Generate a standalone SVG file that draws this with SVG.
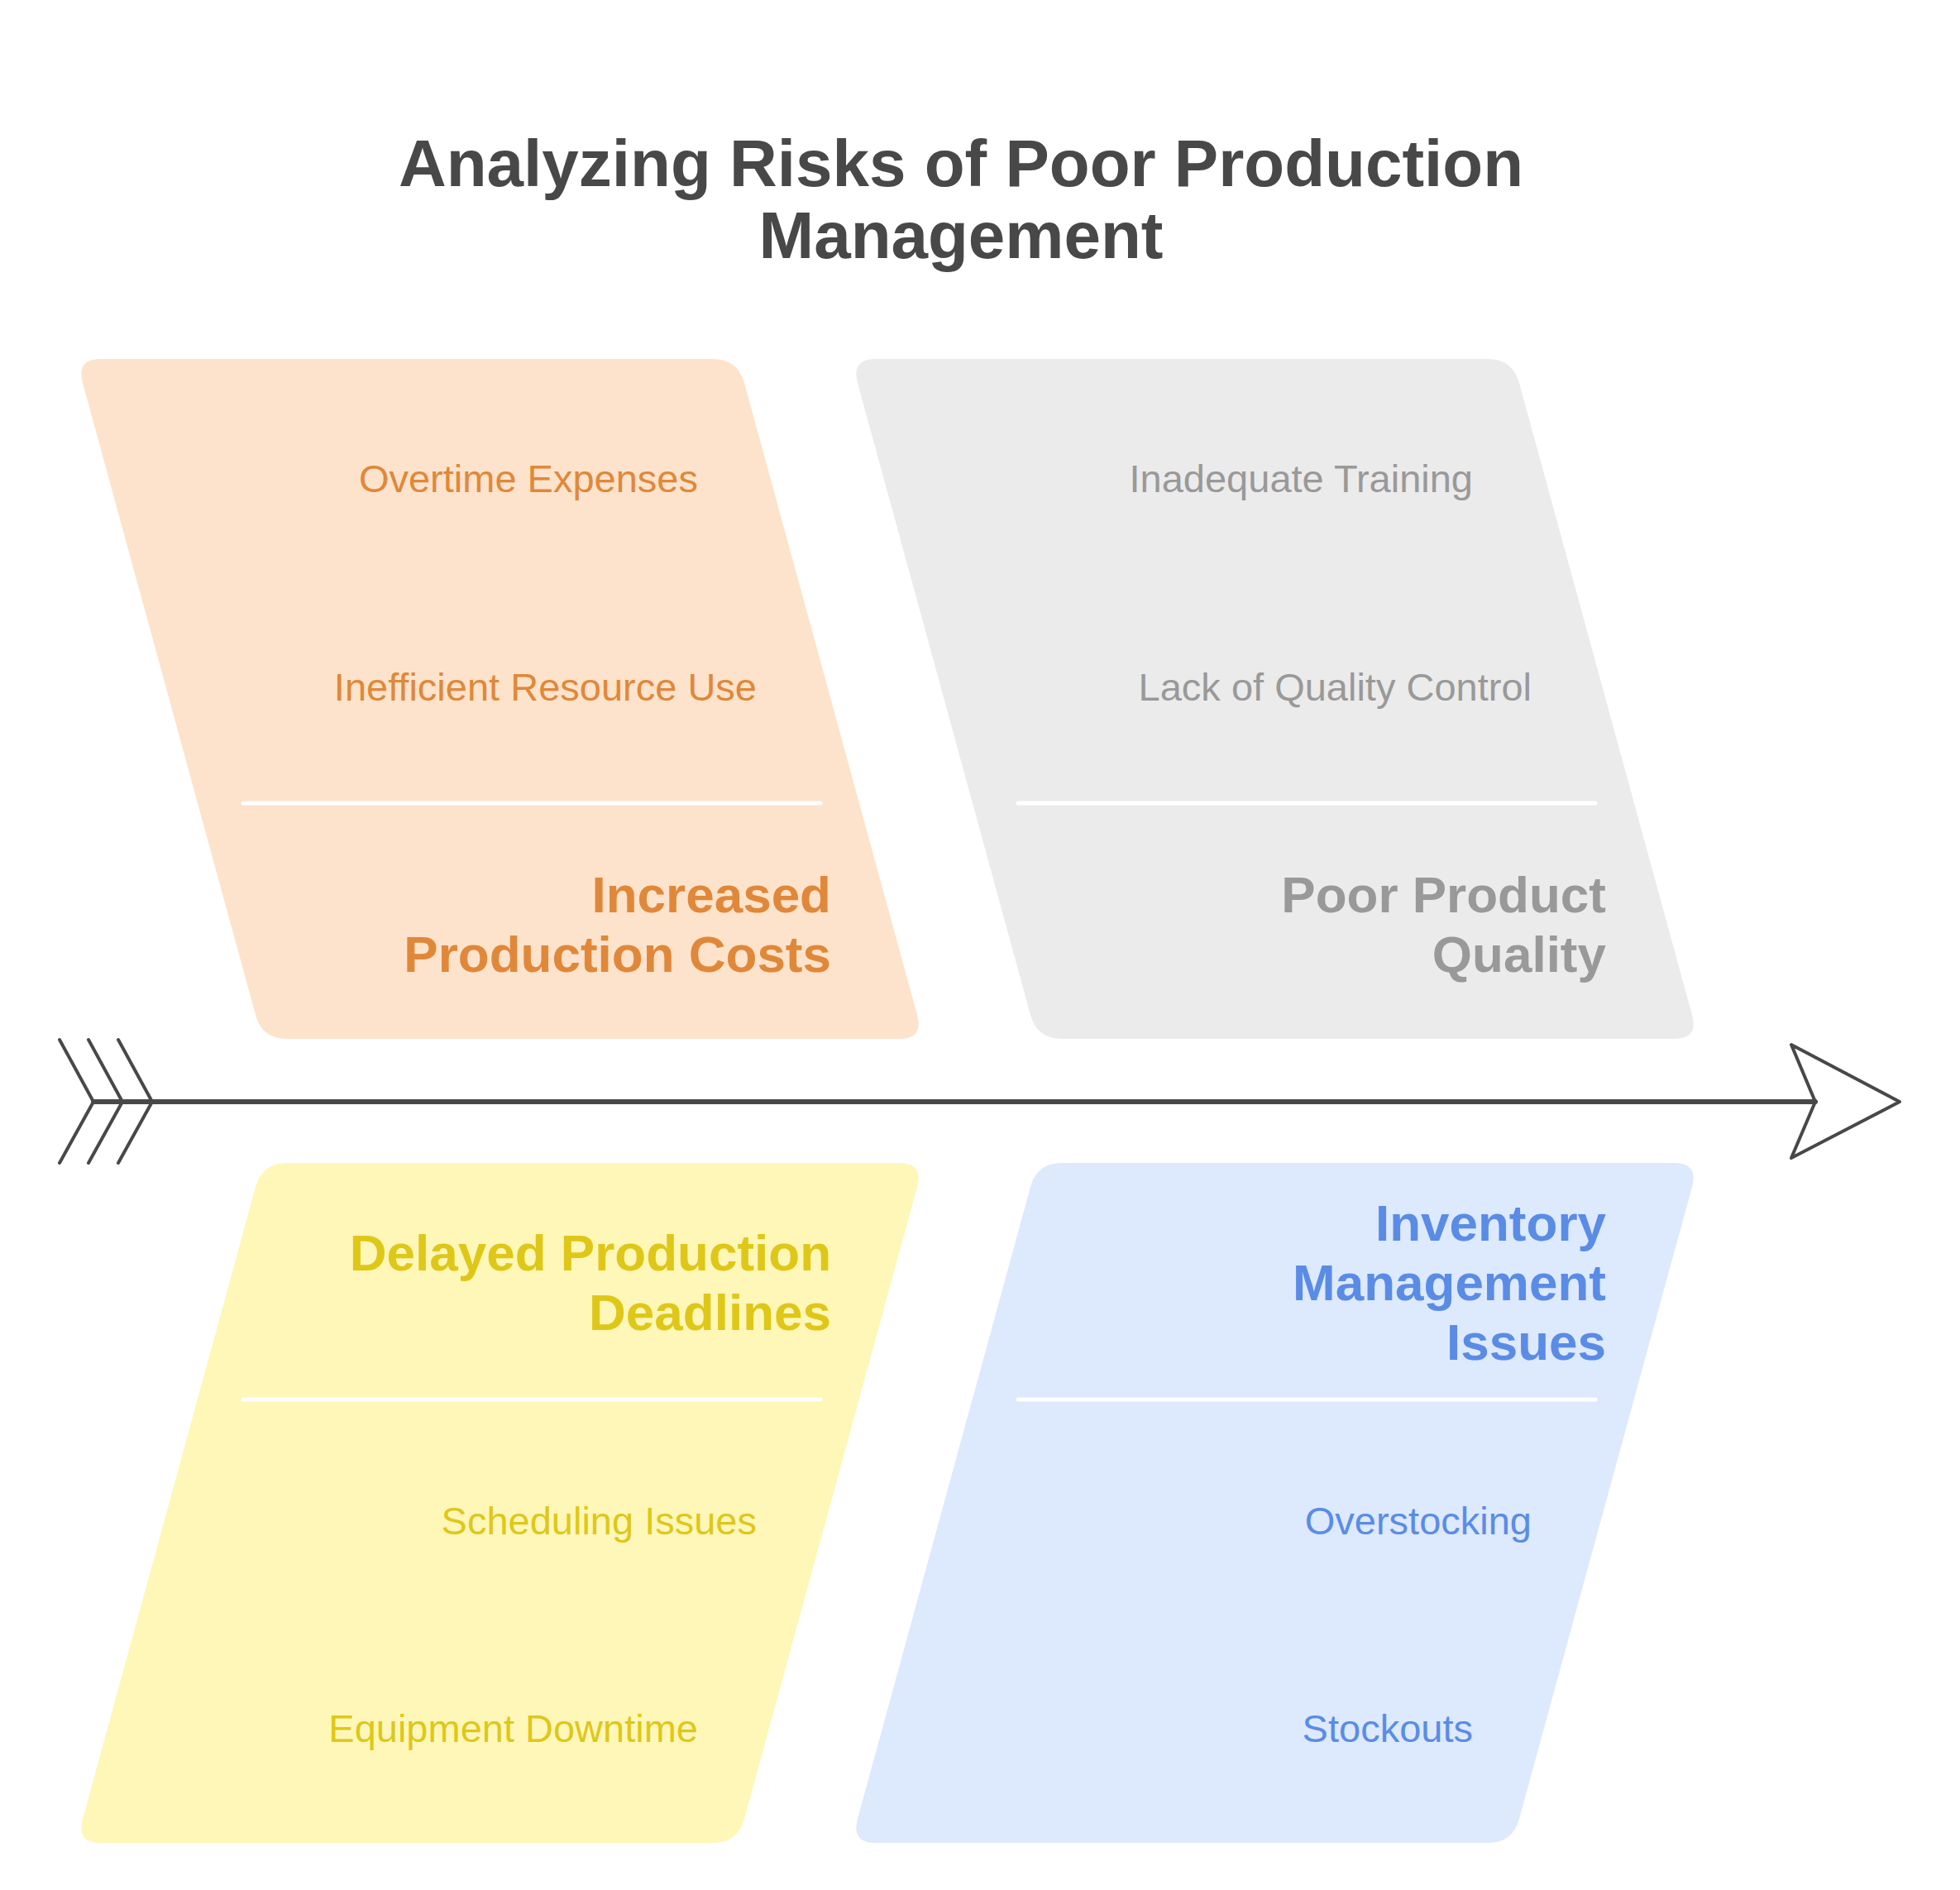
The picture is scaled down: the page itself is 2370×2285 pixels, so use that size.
<svg xmlns="http://www.w3.org/2000/svg" width="2370" height="2285" viewBox="0 0 2370 2285">
<style>
  text { font-family: "Liberation Sans", Arial, sans-serif; }
  .title { font-size: 80px; font-weight: bold; fill: #484848; text-anchor: middle; }
  .head { font-size: 62px; font-weight: bold; text-anchor: end; }
  .item { font-size: 47px; text-anchor: end; }
  .div { stroke: #ffffff; stroke-width: 5; stroke-linecap: round; fill: none; }
  .spine { stroke: #484848; fill: none; stroke-linecap: round; stroke-linejoin: round; }
  .orange .box { fill: #FDE3CB; } .orange text { fill: #E0883A; }
  .gray .box { fill: #EBEBEB; } .gray text { fill: #999999; }
  .yellow .box { fill: #FEF7B8; } .yellow text { fill: #DFC719; }
  .blue .box { fill: #DDE9FD; } .blue text { fill: #5A8CE6; }
</style>
<rect width="2370" height="2285" fill="#ffffff"/>
<g id="title">
  <text class="title" x="1162" y="225">Analyzing Risks of Poor Production</text>
  <text class="title" x="1162" y="312">Management</text>
</g>
<g id="connectors">
  <line class="spine" x1="113" y1="1332" x2="2195" y2="1332" stroke-width="6"/>
  <polyline class="spine" points="72,1257 113,1332 72,1406" stroke-width="4"/>
  <polyline class="spine" points="107,1257 148,1332 107,1406" stroke-width="4"/>
  <polyline class="spine" points="143,1257 184,1332 143,1406" stroke-width="4"/>
  <polygon class="spine" points="2166,1263 2297,1332 2166,1400 2195,1332" fill="#ffffff" stroke-width="4"/>
</g>
<g id="node-costs" class="orange">
  <path class="box" d="M122,434 L862,434 Q892,434 900,463 L1109,1227 Q1117,1256 1087,1256 L347,1256 Q317,1256 309,1227 L100,463 Q92,434 122,434 Z"/>
  <text class="item" x="844" y="595">Overtime Expenses</text>
  <text class="item" x="915" y="847">Inefficient Resource Use</text>
  <line class="div" x1="294" y1="971" x2="992" y2="971"/>
  <text class="head" x="1005" y="1103">Increased</text>
  <text class="head" x="1005" y="1175">Production Costs</text>
</g>
<g id="node-quality" class="gray">
  <path class="box" d="M1059,434 L1799,434 Q1829,434 1837,463 L2046,1227 Q2054,1256 2024,1256 L1284,1256 Q1254,1256 1246,1227 L1037,463 Q1029,434 1059,434 Z"/>
  <text class="item" x="1781" y="595">Inadequate Training</text>
  <text class="item" x="1852" y="847">Lack of Quality Control</text>
  <line class="div" x1="1231" y1="971" x2="1929" y2="971"/>
  <text class="head" x="1942" y="1103">Poor Product</text>
  <text class="head" x="1942" y="1175">Quality</text>
</g>
<g id="node-deadlines" class="yellow">
  <path class="box" d="M347,1406 L1087,1406 Q1117,1406 1109,1435 L900,2199 Q892,2228 862,2228 L122,2228 Q92,2228 100,2199 L309,1435 Q317,1406 347,1406 Z"/>
  <text class="head" x="1005" y="1536">Delayed Production</text>
  <text class="head" x="1005" y="1608">Deadlines</text>
  <line class="div" x1="294" y1="1692" x2="992" y2="1692"/>
  <text class="item" x="915" y="1855">Scheduling Issues</text>
  <text class="item" x="844" y="2106">Equipment Downtime</text>
</g>
<g id="node-inventory" class="blue">
  <path class="box" d="M1284,1406 L2024,1406 Q2054,1406 2046,1435 L1837,2199 Q1829,2228 1799,2228 L1059,2228 Q1029,2228 1037,2199 L1246,1435 Q1254,1406 1284,1406 Z"/>
  <text class="head" x="1942" y="1500">Inventory</text>
  <text class="head" x="1942" y="1572">Management</text>
  <text class="head" x="1942" y="1644">Issues</text>
  <line class="div" x1="1231" y1="1692" x2="1929" y2="1692"/>
  <text class="item" x="1852" y="1855">Overstocking</text>
  <text class="item" x="1781" y="2106">Stockouts</text>
</g>
</svg>
